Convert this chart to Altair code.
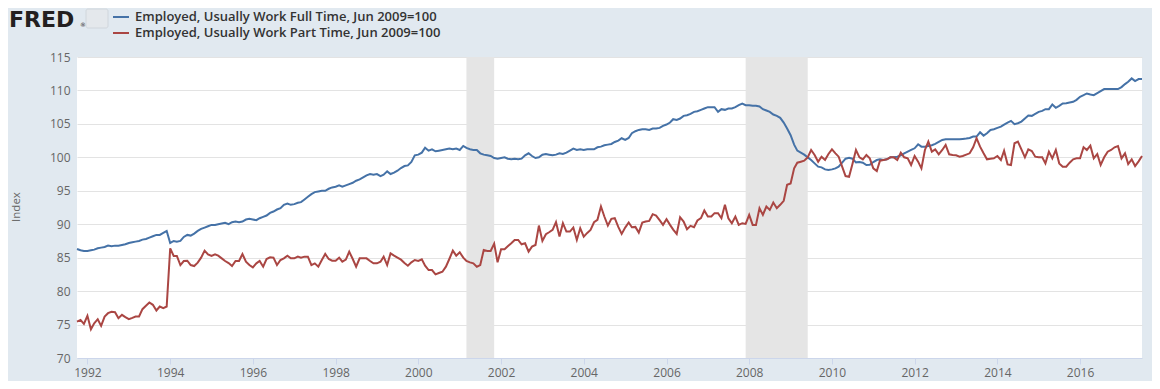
import altair as alt
import pandas as pd

# ---------------- data (monthly, Oct 1991 - Jul 2017) ----------------
first_month = "1991-10-01"

full_time = [
    86.3, 86.1, 86.0,
    86.0, 86.1, 86.2, 86.4, 86.5, 86.6, 86.8, 86.7, 86.8, 86.8, 86.9, 87.0,
    87.2, 87.3, 87.4, 87.5, 87.7, 87.8, 88.0, 88.2, 88.4, 88.4, 88.7, 89.0,
    87.2, 87.5, 87.4, 87.5, 88.1, 88.4, 88.3, 88.6, 89.0, 89.3, 89.5, 89.7,
    89.9, 89.9, 90.0, 90.1, 90.2, 90.0, 90.3, 90.4, 90.3, 90.4, 90.7, 90.8,
    90.7, 90.6, 90.9, 91.1, 91.3, 91.7, 91.9, 92.2, 92.4, 92.9, 93.1, 92.9,
    93.0, 93.2, 93.3, 93.7, 94.1, 94.5, 94.8, 94.9, 95.0, 95.0, 95.3, 95.5,
    95.6, 95.8, 95.6, 95.8, 96.0, 96.2, 96.5, 96.7, 97.0, 97.3, 97.5, 97.4,
    97.5, 97.2, 97.4, 97.9, 97.5, 97.7, 98.0, 98.4, 98.7, 98.8, 99.3, 100.3,
    100.4, 100.7, 101.45, 101.0, 101.2, 100.9, 101.0, 101.1, 101.2, 101.3, 101.2, 101.3,
    101.1, 101.7, 101.4, 101.2, 101.1, 101.1, 100.6, 100.4, 100.3, 100.2, 99.9, 99.8,
    99.9, 100.0, 99.8, 99.7, 99.8, 99.7, 99.8, 100.3, 100.6, 100.2, 99.9, 100.0,
    100.4, 100.5, 100.4, 100.3, 100.4, 100.6, 100.5, 100.7, 101.0, 101.3, 101.1, 101.2,
    101.1, 101.2, 101.2, 101.2, 101.5, 101.6, 101.8, 101.9, 102.0, 102.3, 102.5, 102.85,
    102.6, 102.9, 103.6, 103.9, 104.1, 104.2, 104.2, 104.1, 104.3, 104.3, 104.4, 104.7, 104.9,
    105.2, 105.7, 105.6, 105.8, 106.2, 106.3, 106.5, 106.8, 106.9, 107.1, 107.3, 107.5,
    107.5, 107.5, 106.8, 107.2, 107.1, 107.3, 107.3, 107.5, 107.8, 108.05, 107.8, 107.8,
    107.7, 107.7, 107.6, 107.2, 107.0, 106.8, 106.4, 106.2, 105.9, 105.2, 104.3, 103.3,
    101.9, 101.0, 100.7, 100.4, 100.0, 99.6, 99.1, 98.6, 98.5, 98.2, 98.1, 98.2,
    98.35, 98.6, 99.2, 99.8, 99.95, 99.8, 99.25, 99.3, 99.2, 98.85, 98.9, 99.3,
    99.6, 99.7, 99.6, 99.7, 100.0, 100.0, 100.1, 100.3, 100.6, 100.85, 101.1, 101.35,
    101.95, 101.6, 101.6, 101.7, 101.8, 102.0, 102.3, 102.6, 102.7, 102.7, 102.7, 102.7,
    102.7, 102.75, 102.8, 102.9, 103.1, 103.1, 103.75, 103.25, 103.6, 104.1, 104.2, 104.4,
    104.6, 104.9, 105.2, 105.45, 104.95, 105.1, 105.35, 105.8, 106.25, 106.2, 106.5, 106.8,
    106.95, 107.2, 107.2, 107.9, 107.4, 107.7, 108.05, 108.1, 108.2, 108.3, 108.6, 109.05,
    109.3, 109.55, 109.4, 109.3, 109.6, 109.9, 110.2, 110.2, 110.2, 110.2, 110.2, 110.5,
    110.95, 111.3, 111.8, 111.4, 111.7, 111.7,
]

part_time = [
    75.45, 75.7, 75.1,
    76.3, 74.3, 75.2, 75.8, 74.8, 76.2, 76.7, 76.9, 76.85, 75.95, 76.45, 76.1,
    75.8, 76.0, 76.2, 76.2, 77.3, 77.8, 78.3, 77.95, 77.1, 77.7, 77.45, 77.7,
    86.4, 85.25, 85.25, 83.9, 84.5, 84.55, 83.9, 83.75, 84.25, 85.0, 86.05, 85.5,
    85.25, 85.5, 85.3, 84.9, 84.5, 84.2, 83.75, 84.5, 84.5, 85.55, 84.4, 83.9,
    83.55, 84.15, 84.5, 83.65, 84.8, 85.05, 85.0, 83.9, 84.65, 84.9, 85.3, 84.9,
    84.9, 85.15, 85.0, 85.15, 85.15, 83.9, 84.15, 83.65, 84.65, 85.55, 84.8, 84.55,
    84.55, 85.0, 84.4, 84.7, 85.9, 84.8, 83.65, 84.9, 84.9, 84.9, 84.5, 84.15,
    84.15, 84.4, 85.15, 83.9, 85.65, 85.3, 85.0, 84.7, 84.2, 83.8, 84.3, 84.65,
    84.5, 84.75, 83.8, 83.15, 83.15, 82.5, 82.7, 82.9, 83.65, 84.8, 86.05, 85.3,
    85.8, 85.0, 84.5, 84.3, 84.15, 83.65, 83.9, 86.15, 86.0, 86.0, 87.1, 84.3,
    86.25, 86.25, 86.7, 87.15, 87.65, 87.65, 87.0, 87.15, 85.9, 86.65, 86.9, 89.8,
    87.5, 88.5, 88.8, 89.15, 90.3, 88.15, 90.15, 88.9, 88.9, 89.5, 87.65, 89.4,
    88.15, 88.7, 89.15, 90.3, 90.65, 92.65, 91.15, 89.8, 90.8, 90.9, 89.6, 88.55,
    89.5, 90.25, 89.55, 89.6, 88.75, 90.25, 90.4, 90.5, 91.5, 91.3, 90.6, 89.9, 90.75,
    89.9, 89.2, 88.55, 91.05, 90.4, 89.25, 89.75, 89.55, 90.55, 90.9, 92.05, 91.15,
    91.15, 91.65, 91.65, 90.9, 92.9, 90.9, 90.15, 91.15, 89.9, 90.15, 90.05, 91.4,
    89.9, 89.9, 92.4, 91.4, 92.65, 92.15, 93.25, 92.4, 92.9, 93.5, 95.9, 96.1,
    98.35, 99.2, 99.35, 99.5, 100.0, 101.1, 100.35, 99.35, 100.1, 99.6, 100.5, 101.2,
    100.6, 100.1, 98.6, 97.2, 97.1, 99.0, 101.1, 100.0, 99.7, 100.35, 99.85, 98.35,
    97.95, 99.5, 99.6, 99.7, 100.0, 100.0, 99.6, 100.7, 100.0, 99.85, 98.85, 100.2,
    99.35, 98.35, 101.1, 102.35, 100.85, 101.2, 100.45, 101.1, 101.85, 100.45, 100.35, 100.3,
    100.1, 100.2, 100.4, 100.6, 101.5, 102.85, 101.6, 100.6, 99.7, 99.8, 99.85, 100.2,
    99.6, 101.0, 98.95, 98.85, 102.1, 102.35, 101.2, 100.0, 101.2, 100.95, 100.1, 100.0,
    100.0, 99.1, 100.85, 99.85, 101.1, 99.1, 98.6, 98.6, 99.2, 99.7, 99.85, 99.85,
    101.5, 101.1, 101.75, 99.85, 100.5, 98.85, 100.0, 100.85, 101.1, 101.5, 101.7, 99.85,
    100.6, 99.0, 99.7, 98.7, 99.4, 100.2,
]

series_names = ["Full", "Part"]
series_labels = [
    "Employed, Usually Work Full Time, Jun 2009=100",
    "Employed, Usually Work Part Time, Jun 2009=100",
]
series_colors = ["#4572a7", "#aa4643"]

recession_start = ["2001-03-01", "2007-12-01"]
recession_end = ["2001-11-01", "2009-06-01"]

x_tick_years = [1992, 1994, 1996, 1998, 2000, 2002, 2004, 2006, 2008, 2010, 2012, 2014, 2016]
y_ticks = [70, 75, 80, 85, 90, 95, 100, 105, 110, 115]
y_title = "Index"
logo_text = "FRED"

# ---------------- tables ----------------
dates = pd.date_range(first_month, periods=len(full_time), freq="MS")
wide = pd.DataFrame({"date": dates.strftime("%Y-%m-%d"), "Full": full_time, "Part": part_time})
long = wide.melt("date", var_name="series", value_name="value")
rec = pd.DataFrame({"start": recession_start, "end": recession_end})

W, H = 1065, 301
FONT = "Open Sans"
GRAY = "#666666"

x_scale = alt.Scale(
    domain=[alt.DateTime(year=1991, month=10, date=1), alt.DateTime(year=2017, month=7, date=1)],
    nice=False,
)
x_axis = alt.Axis(
    values=[alt.DateTime(year=y, month=1, date=1) for y in x_tick_years],
    format="%Y", title=None, grid=False,
    domainColor="#ccd6eb", tickColor="#ccd6eb", tickSize=6, labelPadding=3,
    labelFont=FONT, labelFontSize=12, labelColor=GRAY, labelFlush=False,
)
y_scale = alt.Scale(domain=[70, 115], nice=False, zero=False)
y_axis = alt.Axis(
    values=y_ticks, title=None, grid=True, gridColor="#e3e3e3", gridWidth=1,
    domain=False, ticks=False, labelPadding=7,
    labelFont=FONT, labelFontSize=12, labelColor=GRAY,
)

shade = alt.Chart(rec).mark_rect(color="#e5e5e5").encode(
    x=alt.X("start:T", scale=x_scale, axis=x_axis),
    x2="end:T",
)

lines = alt.Chart(long).mark_line(strokeWidth=2).encode(
    x=alt.X("date:T", scale=x_scale, axis=x_axis),
    y=alt.Y("value:Q", scale=y_scale, axis=y_axis),
    color=alt.Color("series:N", scale=alt.Scale(domain=series_names, range=series_colors), legend=None),
    detail="series:N",
)

one = pd.DataFrame({"k": [0]})

logo = alt.Chart(one).mark_text(
    align="left", baseline="alphabetic", font="DejaVu Sans", fontWeight="bold",
    fontSize=22, color="#231f20",
).encode(x=alt.value(-68), y=alt.value(-30), text=alt.value(logo_text))

reg = alt.Chart(one).mark_text(
    align="left", baseline="alphabetic", font="DejaVu Sans", fontSize=6, color="#231f20",
).encode(x=alt.value(3), y=alt.value(-30), text=alt.value("®"))

icon = alt.Chart(one).mark_rect(fill="#e4e8ec", stroke="#d0d6dc", cornerRadius=2).encode(
    x=alt.value(9), x2=alt.value(31), y=alt.value(-48), y2=alt.value(-29)
)

legend_layers = []
for i, (lab, col) in enumerate(zip(series_labels, series_colors)):
    yy = -40 + 16 * i
    legend_layers.append(
        alt.Chart(one).mark_rule(color=col, strokeWidth=2).encode(
            x=alt.value(36), x2=alt.value(52), y=alt.value(yy)
        )
    )
    legend_layers.append(
        alt.Chart(one).mark_text(
            align="left", baseline="middle", font=FONT, fontSize=13,
            fontWeight=600, color="#333333",
        ).encode(x=alt.value(58), y=alt.value(yy), text=alt.value(lab))
    )

ytitle = alt.Chart(one).mark_text(
    angle=270, align="center", baseline="middle", font=FONT, fontSize=11.5, color=GRAY,
).encode(x=alt.value(-60), y=alt.value(150), text=alt.value(y_title))

chart = alt.layer(shade, lines, logo, reg, icon, ytitle, *legend_layers).properties(
    width=W, height=H,
    autosize=alt.AutoSizeParams(type="none"),
    padding={"left": 69, "top": 49, "right": 10, "bottom": 23},
    background="#e1e9f0",
).configure_view(fill="white", stroke=None)

chart.save("out.html", embed_options={"renderer": "svg", "actions": False})
